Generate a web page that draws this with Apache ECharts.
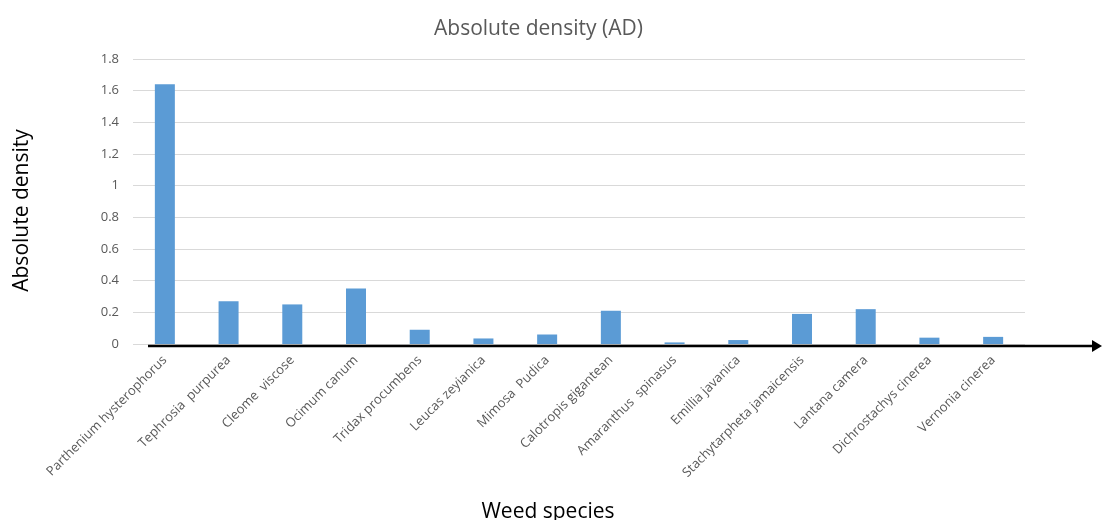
<!DOCTYPE html>
<html>
<head>
<meta charset="utf-8">
<script src="https://cdn.jsdelivr.net/npm/echarts@6/dist/echarts.min.js"></script>
<style>html,body{margin:0;padding:0;background:#fff}#c{width:1102px;height:520px}</style>
</head>
<body>
<div id="c"></div>
<script>
const categories = ["Parthenium hysterophorus","Tephrosia  purpurea","Cleome  viscose","Ocimum canum","Tridax procumbens","Leucas zeyianica","Mimosa  Pudica","Calotropis gigantean","Amaranthus  spinasus","Emillia javanica","Stachytarpheta jamaicensis","Lantana camera","Dichrostachys cinerea","Vernonia cinerea"];
const values = [1.64, 0.27, 0.25, 0.35, 0.09, 0.035, 0.06, 0.21, 0.01, 0.025, 0.19, 0.22, 0.04, 0.045];
const yTicks = [0, 0.2, 0.4, 0.6, 0.8, 1, 1.2, 1.4, 1.6, 1.8];

const chart = echarts.init(document.getElementById('c'));
const FONT = '"Open Sans", "DejaVu Sans", sans-serif';
chart.setOption({
  animation: false,
  title: {
    text: 'Absolute density (AD)',
    left: 434, top: 19,
    padding: 0,
    textStyle: {fontFamily: FONT, fontSize: 21, fontWeight: 'normal', color: '#595959'}
  },
  grid: {left: 133, right: 77, top: 59, bottom: 176, outerBoundsMode: 'none', containLabel: false},
  xAxis: {
    type: 'category',
    data: categories,
    axisLine: {show: false},
    axisTick: {show: false},
    axisLabel: {rotate: 45, interval: 0, margin: 14, fontFamily: FONT, fontSize: 13, color: '#595959'},
    name: 'Weed species',
    nameLocation: 'middle',
    nameGap: 158,
    nameTextStyle: {fontFamily: FONT, fontSize: 21, color: '#000', padding: [0, 62, 0, 0]}
  },
  yAxis: {
    type: 'value',
    min: 0, max: yTicks[yTicks.length - 1], interval: 0.2,
    axisLine: {show: false},
    axisTick: {show: false},
    splitLine: {lineStyle: {color: '#d9d9d9', width: 1}},
    axisLabel: {margin: 14, fontFamily: FONT, fontSize: 13, color: '#595959',
      formatter: v => String(Math.round(v * 10) / 10)},
    name: 'Absolute density',
    nameLocation: 'middle',
    nameGap: 100,
    nameRotate: 90,
    nameTextStyle: {fontFamily: FONT, fontSize: 21, color: '#000', padding: [0, 18, 0, 0]}
  },
  series: [{
    type: 'bar',
    data: values,
    barWidth: 20,
    itemStyle: {color: '#5b9bd5'}
  }],
  graphic: [
    {type: 'line', shape: {x1: 148, y1: 346, x2: 1094, y2: 346}, style: {stroke: '#000', lineWidth: 2.5}, z: 100},
    {type: 'polygon', shape: {points: [[1092, 340], [1102, 346], [1092, 352]]}, style: {fill: '#000'}, z: 100}
  ]
});
</script>
</body>
</html>
